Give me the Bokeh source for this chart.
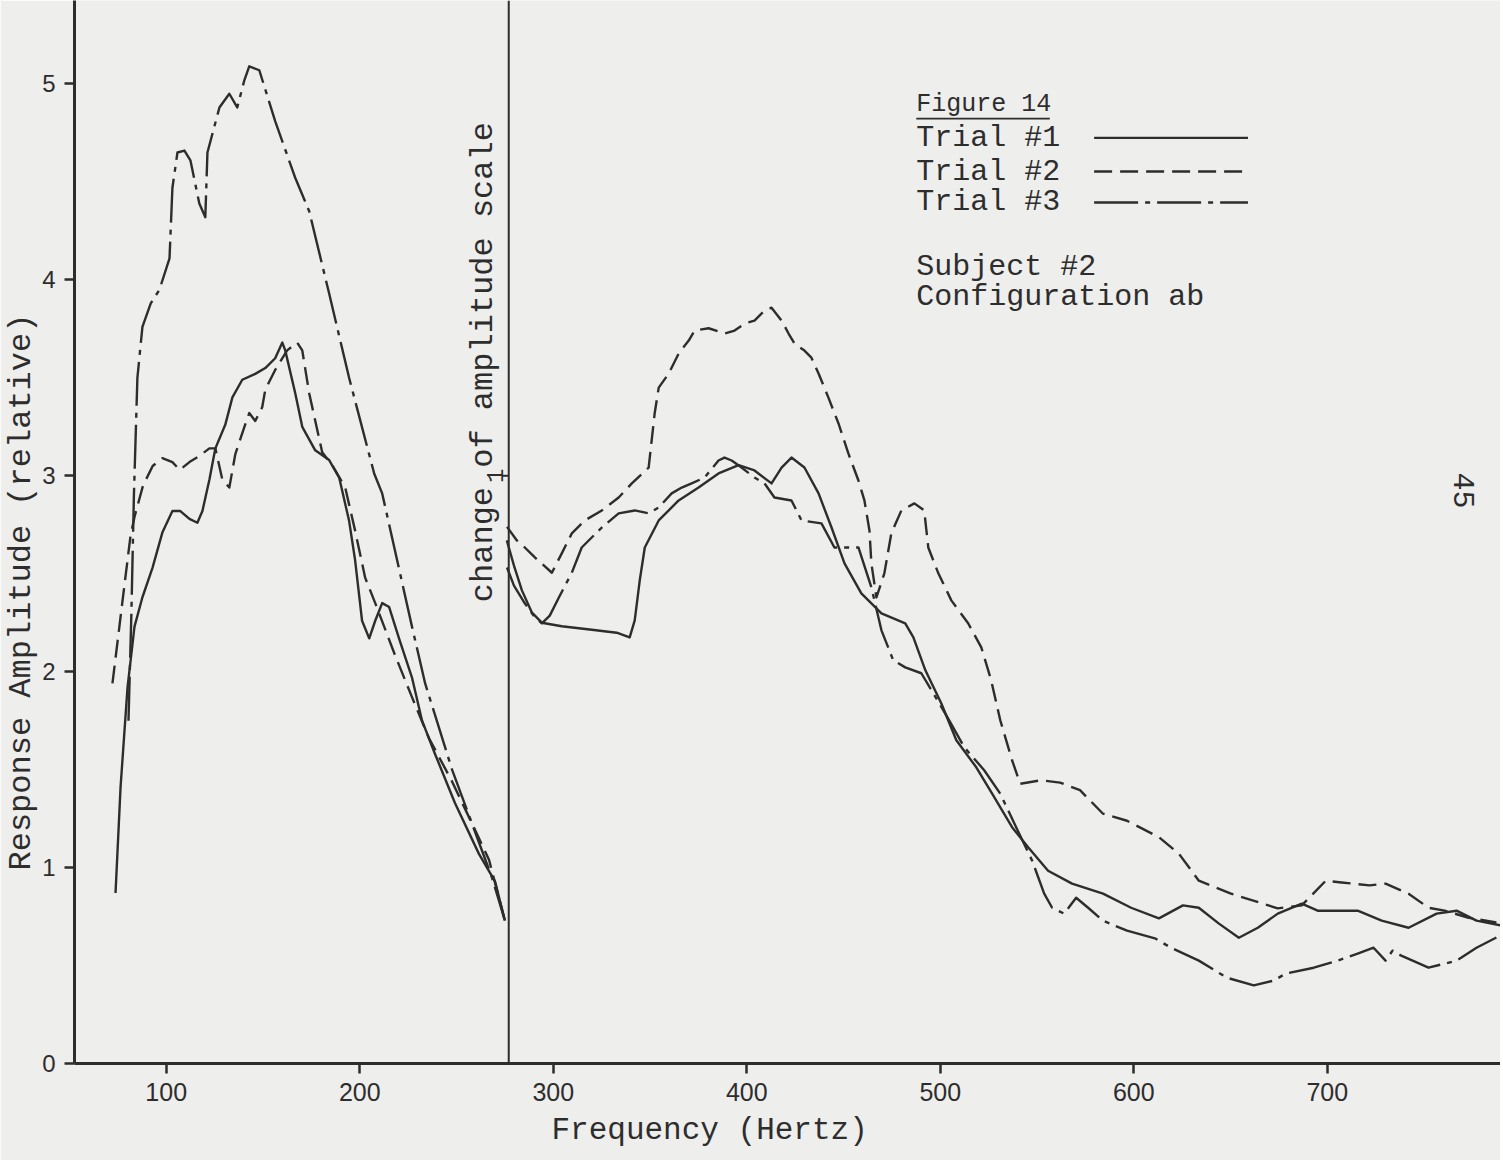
from math import pi
from bokeh.plotting import figure
from bokeh.models import Range1d, FixedTicker, Span, Title
from bokeh.embed import file_html
from bokeh.resources import INLINE
from bokeh.core.properties import value

# ---------------- data ----------------
x_ticks = [100, 200, 300, 400, 500, 600, 700]
y_ticks = [0, 1, 2, 3, 4, 5]
scale_break_hz = 277          # frequency where the amplitude scale changes
right_scale_factor = 3        # right part is drawn with a 3x expanded scale
right_tick = [1]

# Trial #1 (solid)
t1_left_f = [73.8, 76.4, 80.0, 83.6, 87.7, 92.9, 98.0, 103.2, 107.3, 112.0, 116.1, 118.7, 122.3,
             125.4, 130.5, 134.2, 139.3, 146.0, 151.2, 156.3, 160.0, 161.5, 166.7, 170.3, 177.0,
             184.2, 189.4, 194.5, 197.6, 201.2, 204.9, 208.0, 211.6, 215.2, 220.3, 227.0, 232.2,
             238.9, 249.2, 261.6, 269.9, 275.0]
t1_left_a = [0.87, 1.41, 1.92, 2.23, 2.38, 2.53, 2.71, 2.82, 2.82, 2.78, 2.76, 2.82, 2.98,
             3.14, 3.26, 3.40, 3.49, 3.52, 3.55, 3.60, 3.68, 3.64, 3.42, 3.25, 3.13,
             3.08, 2.99, 2.77, 2.57, 2.26, 2.17, 2.26, 2.35, 2.33, 2.17, 1.97, 1.75,
             1.58, 1.33, 1.07, 0.93, 0.73]
t1_right_f = [276.0, 279.7, 283.8, 289.0, 294.1, 304.4, 319.9, 332.8, 339.5, 342.1, 344.7, 347.3,
              354.5, 364.8, 375.1, 385.4, 395.8, 404.0, 412.8, 418.0, 423.1, 429.8, 437.1, 443.8,
              450.5, 459.2, 469.6, 481.9, 486.1, 492.3, 500.5, 508.3, 518.6, 526.8, 537.1, 545.4,
              555.7, 568.1, 584.1, 598.6, 613.0, 625.4, 633.6, 644.0, 654.3, 664.1, 674.4, 686.8,
              695.0, 715.7, 728.1, 742.0, 756.5, 766.8, 777.1, 789.5]
t1_right_a = [0.890, 0.847, 0.805, 0.767, 0.750, 0.744, 0.738, 0.733, 0.725, 0.754, 0.822, 0.878,
              0.924, 0.958, 0.980, 1.004, 1.018, 1.009, 0.987, 1.014, 1.031, 1.014, 0.970, 0.912,
              0.851, 0.800, 0.766, 0.749, 0.725, 0.669, 0.613, 0.550, 0.504, 0.459, 0.402, 0.368,
              0.328, 0.306, 0.289, 0.265, 0.247, 0.269, 0.265, 0.238, 0.214, 0.231, 0.255, 0.272,
              0.260, 0.260, 0.243, 0.231, 0.255, 0.260, 0.243, 0.235]

# Trial #2 (dashed)
t2_left_f = [72.2, 77.4, 81.5, 83.6, 88.0, 93.0, 98.0, 103.2, 107.0, 112.0, 117.0, 122.3, 125.4,
             129.0, 132.6, 135.7, 140.4, 142.9, 146.0, 149.6, 151.2, 156.3, 162.5, 167.7, 170.3,
             173.9, 180.6, 186.0, 192.5, 197.6, 202.8, 208.0, 218.0, 227.0, 235.8, 247.7, 261.6,
             266.8, 275.0]
t2_left_a = [1.94, 2.36, 2.69, 2.79, 2.95, 3.05, 3.09, 3.07, 3.03, 3.07, 3.10, 3.14, 3.14,
             2.98, 2.94, 3.11, 3.25, 3.32, 3.28, 3.35, 3.44, 3.54, 3.64, 3.68, 3.64,
             3.42, 3.12, 3.05, 2.94, 2.72, 2.48, 2.35, 2.09, 1.87, 1.66, 1.44, 1.15,
             1.04, 0.73]
t2_right_f = [276.1, 281.2, 285.3, 290.5, 299.3, 304.4, 309.6, 316.3, 325.1, 333.8, 340.6, 349.3,
              352.4, 354.5, 359.7, 364.8, 370.0, 373.1, 380.3, 388.5, 393.7, 398.9, 404.0, 409.2,
              412.8, 418.0, 421.6, 424.7, 429.8, 433.4, 437.1, 442.2, 447.4, 452.5, 457.7, 460.8,
              463.4, 464.4, 467.0, 471.1, 474.7, 479.9, 486.6, 491.7, 493.8, 499.0, 505.7, 514.4,
              521.2, 526.3, 531.0, 537.1, 541.3, 552.1, 561.9, 572.2, 584.1, 596.5, 613.0, 623.3,
              633.6, 650.2, 674.4, 686.8, 699.2, 707.4, 721.9, 730.1, 742.0, 752.3, 760.6, 773.0,
              787.4]
t2_right_a = [0.913, 0.890, 0.878, 0.861, 0.835, 0.868, 0.902, 0.924, 0.941, 0.963, 0.987, 1.014,
              1.106, 1.150, 1.174, 1.208, 1.230, 1.247, 1.251, 1.242, 1.247, 1.259, 1.264, 1.281,
              1.286, 1.264, 1.242, 1.225, 1.213, 1.201, 1.174, 1.133, 1.089, 1.038, 0.992, 0.958,
              0.907, 0.851, 0.793, 0.834, 0.902, 0.941, 0.953, 0.941, 0.878, 0.834, 0.788, 0.749,
              0.708, 0.652, 0.584, 0.516, 0.476, 0.482, 0.478, 0.465, 0.425, 0.413, 0.385, 0.357,
              0.311, 0.289, 0.264, 0.269, 0.311, 0.308, 0.303, 0.306, 0.289, 0.265, 0.260, 0.248,
              0.240]

# Trial #3 (long dash - short dash)
t3_left_f = [80.5, 82.0, 83.3, 84.5, 85.1, 87.7, 92.0, 96.5, 101.7, 103.2, 105.8, 109.4, 112.5,
             117.1, 120.2, 121.3, 127.5, 132.6, 136.7, 140.4, 142.9, 148.1, 156.3, 166.7, 173.9,
             184.2, 194.5, 207.5, 211.6, 227.0, 233.8, 247.7, 268.3, 275.0]
t3_left_a = [1.75, 2.30, 2.90, 3.30, 3.50, 3.76, 3.88, 3.95, 4.11, 4.47, 4.65, 4.66, 4.61,
             4.39, 4.32, 4.65, 4.88, 4.95, 4.88, 5.02, 5.09, 5.07, 4.81, 4.52, 4.35,
             3.93, 3.50, 3.01, 2.91, 2.23, 1.94, 1.50, 0.95, 0.73]
t3_right_f = [276.1, 279.7, 285.3, 290.5, 294.1, 298.2, 302.9, 309.6, 314.7, 325.1, 333.8, 342.1,
              349.3, 354.5, 361.2, 366.4, 371.5, 378.2, 385.4, 388.5, 392.2, 397.3, 404.0, 409.2,
              414.3, 423.1, 428.3, 438.6, 445.3, 457.7, 464.4, 469.6, 475.7, 481.9, 490.2, 496.4,
              504.6, 512.4, 522.7, 531.0, 539.2, 547.5, 553.7, 557.8, 564.0, 570.2, 576.4, 584.1,
              596.5, 610.9, 619.2, 633.6, 648.1, 662.0, 672.3, 678.5, 693.0, 705.4, 715.7, 723.9,
              730.1, 733.7, 737.9, 744.1, 752.3, 766.8, 777.1, 789.5]
t3_right_a = [0.844, 0.813, 0.783, 0.759, 0.749, 0.762, 0.793, 0.835, 0.878, 0.912, 0.936, 0.941,
              0.936, 0.946, 0.970, 0.980, 0.987, 0.997, 1.026, 1.031, 1.026, 1.014, 0.997, 0.987,
              0.963, 0.958, 0.924, 0.919, 0.878, 0.878, 0.810, 0.737, 0.686, 0.674, 0.664, 0.630,
              0.584, 0.538, 0.499, 0.459, 0.402, 0.345, 0.289, 0.265, 0.255, 0.282, 0.265, 0.243,
              0.226, 0.213, 0.197, 0.175, 0.146, 0.133, 0.141, 0.153, 0.163, 0.175, 0.187, 0.197,
              0.175, 0.192, 0.184, 0.175, 0.163, 0.175, 0.197, 0.218]

trial_labels = ["Trial #1", "Trial #2", "Trial #3"]
fig_title = "Figure 14"
notes = ["Subject #2", "Configuration ab"]
x_title = "Frequency (Hertz)"
y_title = "Response Amplitude (relative)"
break_title = "change of amplitude scale"
page_number = "45"

# ---------------- styling ----------------
INK = "#2d2d2d"
PAPER = "#eeeeec"
MONO = "Liberation Mono"
dashes = ["solid", "18 8", "44 7 5 7"]

X0, X1 = 52.6, 789.5
Y0, Y1 = 0.0, 5.426

p = figure(width=1500, height=1160, x_range=Range1d(X0, X1), y_range=Range1d(Y0, Y1),
           output_backend="svg", toolbar_location=None,
           min_border_left=72, min_border_right=0, min_border_top=0, min_border_bottom=97)
p.extra_y_ranges = {"right": Range1d(Y0, Y1 / right_scale_factor)}
p.background_fill_color = PAPER
p.border_fill_color = PAPER
p.outline_line_color = None
p.grid.visible = False

p.xaxis.ticker = FixedTicker(ticks=x_ticks)
p.yaxis.ticker = FixedTicker(ticks=y_ticks)
for ax in (p.xaxis[0], p.yaxis[0]):
    ax.axis_line_width = 3
    ax.axis_line_color = INK
    ax.major_tick_line_width = 2.5
    ax.major_tick_line_color = INK
    ax.major_tick_out = 10
    ax.major_tick_in = 0
    ax.minor_tick_line_color = None
    ax.major_label_text_font = "Liberation Sans"
    ax.major_label_text_color = INK
p.xaxis.major_label_text_font_size = "25px"
p.xaxis.major_label_standoff = 9
p.yaxis.major_label_text_font_size = "24px"
p.yaxis.major_label_standoff = 9

# axis titles, shifted along their axes as in the original
p.add_layout(Title(text=x_title, align="left", offset=477, standoff=14, text_font=MONO,
                   text_font_size="31px", text_font_style="normal", text_color=INK), "below")
p.add_layout(Title(text=y_title, align="left", offset=193, standoff=0, text_font=MONO,
                   text_font_size="32px", text_font_style="normal", text_color=INK), "left")

# divider where the amplitude scale changes
p.add_layout(Span(location=scale_break_hz, dimension="height", line_color=INK, line_width=2))

line_kw = dict(line_color=INK, line_width=2.4, line_cap="butt", line_join="round")
for (lf, la, rf, ra), dash in zip(
        [(t1_left_f, t1_left_a, t1_right_f, t1_right_a),
         (t2_left_f, t2_left_a, t2_right_f, t2_right_a),
         (t3_left_f, t3_left_a, t3_right_f, t3_right_a)], dashes):
    p.line(lf, la, line_dash=dash, **line_kw)
    p.line(rf, ra, line_dash=dash, y_range_name="right", **line_kw)

# tick "1" of the expanded scale
p.segment(x0=[scale_break_hz - 3.5] * len(right_tick), x1=[scale_break_hz] * len(right_tick),
          y0=right_tick, y1=right_tick, y_range_name="right", line_color=INK, line_width=2)
p.text(x=[scale_break_hz - 3.0] * len(right_tick), y=right_tick, text=[str(t) for t in right_tick],
       y_range_name="right", angle=pi / 2, text_font=value(MONO), text_font_size="24px",
       text_color=INK, text_align="center", text_baseline="bottom")

# rotated note for the scale change
p.text(x=[264.0], y=[3.58], text=[break_title], angle=pi / 2, text_font=value(MONO),
       text_font_size="32px", text_color=INK, text_align="center", text_baseline="middle")

# legend block (label left, sample line right)
leg_x_text = 487.6
leg_line_x = (579.5, 659.0)
leg_rows = [4.725, 4.553, 4.395]
p.text(x=[leg_x_text], y=[4.895], text=[fig_title], text_font=value(MONO), text_font_size="25px",
       text_color=INK, text_baseline="middle")
p.line(x=[leg_x_text, leg_x_text + 69], y=[4.823, 4.823], line_color=INK, line_width=1.8)
p.text(x=[leg_x_text] * 3, y=leg_rows, text=trial_labels, text_font=value(MONO),
       text_font_size="30px", text_color=INK, text_baseline="middle")
for yy, dash in zip(leg_rows, dashes):
    p.line(x=list(leg_line_x), y=[yy, yy], line_dash=dash, **line_kw)
p.text(x=[leg_x_text] * 2, y=[4.068, 3.91], text=notes, text_font=value(MONO),
       text_font_size="30px", text_color=INK, text_baseline="middle")

# page number
p.text(x=[770.4], y=[2.925], text=[page_number], angle=-pi / 2, text_font=value(MONO),
       text_font_size="30px", text_color=INK, text_align="center", text_baseline="middle")

open("out.html", "w").write(file_html(p, INLINE))
